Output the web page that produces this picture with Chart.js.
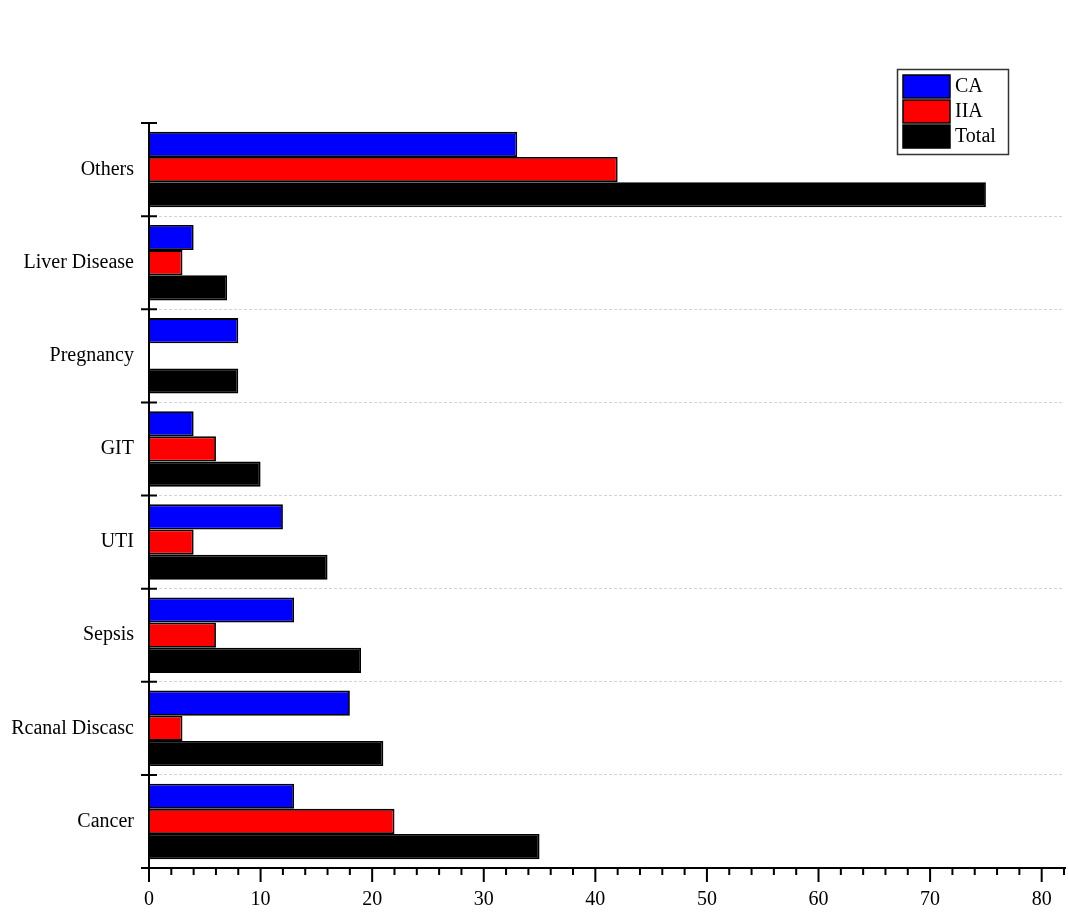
<!DOCTYPE html>
<html>
<head>
<meta charset="utf-8">
<script src="https://cdn.jsdelivr.net/npm/chart.js@4.4.1/dist/chart.umd.min.js"></script>
<style>
  html, body { margin: 0; padding: 0; background: #ffffff; }
  #wrap { width: 1068px; height: 913px; }
</style>
</head>
<body>
<div id="wrap"><canvas id="chart" width="1068" height="913"></canvas></div>
<script>
// Causes of admission, counted per group
const categories = ['Others', 'Liver Disease', 'Pregnancy', 'GIT', 'UTI', 'Sepsis', 'Rcanal Discasc', 'Cancer'];
const caValues = [33, 4, 8, 4, 12, 13, 18, 13];
const iiaValues = [42, 3, 0, 6, 4, 6, 3, 22];
const totalValues = [75, 7, 8, 10, 16, 19, 21, 35];
const seriesNames = ['CA', 'IIA', 'Total'];
const seriesColors = ['#0000ff', '#ff0000', '#000000'];
const xMax = 82;
const xMajorStep = 10;
const xMinorStep = 2;

const FONT = '"Liberation Serif", "Times New Roman", serif';

// Axis lines with crossing category ticks and major/minor value ticks
const axesPlugin = {
  id: 'axesPlugin',
  afterDatasetsDraw(chart) {
    const { ctx, chartArea, scales } = chart;
    const x = scales.x, y = scales.y;
    const left = chartArea.left, bottom = chartArea.bottom, top = chartArea.top;
    ctx.save();
    ctx.strokeStyle = '#000';
    ctx.lineWidth = 2;
    ctx.lineCap = 'butt';
    // axis lines
    ctx.beginPath();
    ctx.moveTo(left, top);
    ctx.lineTo(left, bottom);
    ctx.moveTo(left - 8, bottom);
    ctx.lineTo(chartArea.right + 2, bottom);
    ctx.stroke();
    // category boundary ticks crossing the axis
    const n = categories.length;
    ctx.beginPath();
    for (let i = 0; i <= n; i++) {
      const py = y.getPixelForValue(i - 0.5);
      ctx.moveTo(left - 8, py);
      ctx.lineTo(left + 8, py);
    }
    ctx.stroke();
    // value ticks pointing down
    ctx.beginPath();
    for (let v = 0; v <= xMax; v += xMinorStep) {
      const px = x.getPixelForValue(v);
      const len = v % xMajorStep === 0 ? 14 : 7;
      ctx.moveTo(px, bottom);
      ctx.lineTo(px, bottom + len);
    }
    ctx.stroke();
    ctx.restore();
  }
};

// Boxed legend in the upper right corner
const boxLegendPlugin = {
  id: 'boxLegendPlugin',
  afterDraw(chart) {
    const { ctx } = chart;
    const bx = 897, by = 69, bw = 111, bh = 85;
    ctx.save();
    ctx.fillStyle = '#ffffff';
    ctx.fillRect(bx, by, bw, bh);
    ctx.strokeStyle = '#333';
    ctx.lineWidth = 1.5;
    ctx.strokeRect(bx + 0.5, by + 0.5, bw, bh);
    ctx.font = '20px ' + FONT;
    ctx.textBaseline = 'middle';
    ctx.textAlign = 'left';
    chart.data.datasets.forEach((ds, i) => {
      const sy = 75 + i * 25;
      ctx.fillStyle = ds.backgroundColor;
      ctx.fillRect(903, sy, 47, 23);
      ctx.strokeStyle = '#000';
      ctx.lineWidth = 1.5;
      ctx.strokeRect(903, sy, 47, 23);
      ctx.fillStyle = '#000';
      ctx.fillText(ds.label, 955, sy + 12);
    });
    ctx.restore();
  }
};

const valueSets = [caValues, iiaValues, totalValues];

new Chart(document.getElementById('chart'), {
  type: 'bar',
  data: {
    labels: categories,
    datasets: valueSets.map((vals, i) => ({
      label: seriesNames[i],
      data: vals,
      backgroundColor: seriesColors[i],
      borderColor: '#000',
      borderWidth: 1.8,
      categoryPercentage: 0.81,
      barPercentage: 1.0
    }))
  },
  options: {
    indexAxis: 'y',
    responsive: false,
    animation: false,
    devicePixelRatio: 1,
    layout: { padding: { top: 123, right: 4, left: 0, bottom: 0 } },
    plugins: {
      legend: { display: false },
      tooltip: { enabled: false }
    },
    scales: {
      x: {
        type: 'linear',
        position: 'bottom',
        min: 0,
        max: xMax,
        grid: { display: false, drawTicks: false },
        border: { display: false },
        ticks: {
          stepSize: xMajorStep,
          includeBounds: false,
          autoSkip: false,
          maxRotation: 0,
          padding: 20,
          color: '#000',
          font: { family: FONT, size: 20 }
        },
        afterFit(scale) {
          scale.height = 45;
          scale.paddingLeft = 0;
          scale.paddingRight = 0;
        }
      },
      y: {
        type: 'category',
        offset: true,
        grid: {
          display: true,
          offset: true,
          drawTicks: false,
          lineWidth: 1,
          color: (c) => (c.index === 0 || c.index === categories.length) ? 'rgba(0,0,0,0)' : '#d4d4d4'
        },
        border: { display: false, dash: [3, 2] },
        ticks: {
          padding: 15,
          color: '#000',
          font: { family: FONT, size: 20 }
        },
        afterFit(scale) {
          scale.width = 149;
          scale.paddingTop = 0;
          scale.paddingBottom = 0;
        }
      }
    }
  },
  plugins: [axesPlugin, boxLegendPlugin]
});
</script>
</body>
</html>
